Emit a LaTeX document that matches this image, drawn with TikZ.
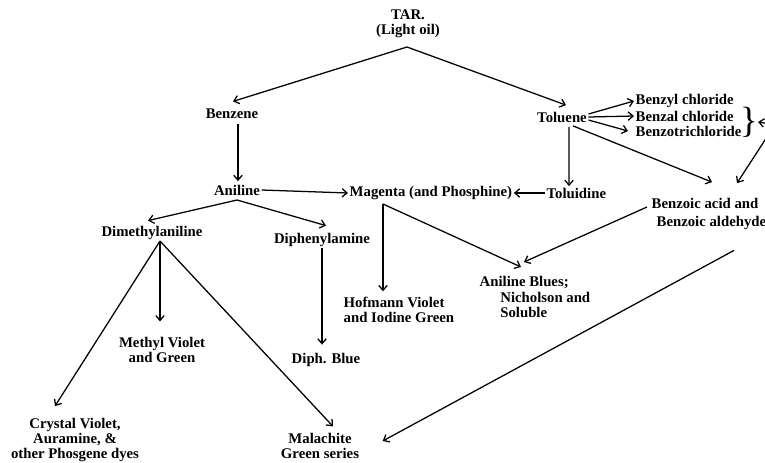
\documentclass[tikz,border=0pt]{standalone}
\usepackage{fontspec}
\setmainfont{Liberation Serif}
\usetikzlibrary{arrows.meta,positioning}

\begin{document}
\begin{tikzpicture}[
  x=0.025cm, y=-0.025cm,
  >={Straight Barb[length=3.5pt,width=6pt]},
  lbl/.style={inner sep=1pt, font=\fontsize{10.5}{11}\selectfont\bfseries},
  link/.style={->, line width=0.9pt},
]
\useasboundingbox (0,0) rectangle (765,462);

% Top
\node[lbl, align=center] (tar) at (408,24) {TAR.\\(Light oil)};
\node[lbl] (benzene) at (232,114) {Benzene};
\node[lbl] (toluene) at (562,117) {Toluene};

% Chlorides
\node[lbl, anchor=west] (benzyl) at (634,101) {Benzyl chloride};
\node[lbl, anchor=west] (benzal) at (634,116) {Benzal chloride};
\node[lbl, anchor=west] (benzotri) at (634,131) {Benzotrichloride};
\node[inner sep=0pt, font=\fontsize{26}{26}\selectfont] (brace) at (749,122) {\}};

% Middle row
\node[lbl] (aniline) at (237,190) {Aniline};
\node[lbl, anchor=west] (magenta) at (348,193) {Magenta (and Phosphine)};
\node[lbl, anchor=west] (toluidine) at (545,193) {Toluidine};
\node[lbl, anchor=west] (benzacid) at (650,203) {Benzoic acid and};
\node[lbl, anchor=west] (benzald) at (655,223) {Benzoic aldehyde};

% Aniline products
\node[lbl] (dimethyl) at (152,233) {Dimethylaniline};
\node[lbl] (diphenyl) at (322,240) {Diphenylamine};
\node[lbl, align=left, anchor=west] (hofmann) at (342,310) {Hofmann Violet\\and Iodine Green};
\node[lbl, align=left, anchor=north west] (blues) at (478,275) {Aniline Blues;\\\hspace{1.4em}Nicholson and\\\hspace{1.4em}Soluble};

% Dyes
\node[lbl, align=center] (methyl) at (162,350) {Methyl Violet\\and Green};
\node[lbl] (diphblue) at (326,360) {Diph. Blue};
\node[lbl, align=center] (crystal) at (75,440) {Crystal Violet,\\Auramine, \&\\other Phosgene dyes};
\node[lbl, align=center] (malachite) at (320,446) {Malachite\\Green series};

% Forks and free ends
\coordinate (tarfork) at (407,47);
\coordinate (anfork) at (237,200);
\coordinate (dmfork) at (160,241);
\coordinate (magfork) at (383,204);
\coordinate (offright) at (790,127);
\coordinate (offacid) at (778,120);

% Connectors
\draw[link] (tarfork) -- ([shift={(1,-6)}]benzene.north);
\draw[link] (tarfork) -- ([shift={(4,-5)}]toluene.north);
\draw[link] ([shift={(6,3)}]benzene.south) -- ([shift={(1,-2)}]aniline.north);
\draw[link] (aniline.east) -- (magenta.west);
\draw[link] (toluidine.west) -- (magenta.east);
\draw[link] ([shift={(0,-3)}]toluene.east) -- (benzyl.west);
\draw[link] (toluene.east) -- (benzal.west);
\draw[link] ([shift={(0,3)}]toluene.east) -- ([shift={(-6,0)}]benzotri.west);
\draw[link] (offright) -- (brace.east);
\draw[link] ([shift={(7,3)}]toluene.south) -- ([xshift=5pt]toluene.south |- toluidine.north);
\draw[link] ([shift={(11,2)}]toluene.south) -- ([shift={(62,-14)}]benzacid.north west);
\draw[link] (offacid) -- ([shift={(87,-13)}]benzacid.north west);
\draw[link] ([shift={(-3,4)}]benzacid.west) -- ([shift={(46,-13)}]blues.north west);
\draw[link] ([shift={(79,19)}]benzald.south west) -- ([shift={(22,-5)}]malachite.east);
\draw[link] (anfork) -- ([shift={(-4,-4)}]dimethyl.north);
\draw[link] (anfork) -- ([shift={(4,-6)}]diphenyl.north);
\draw[link] (dmfork) -- ([shift={(-20,-10)}]crystal.north);
\draw[link] (dmfork) -- ([shift={(-2,-14)}]methyl.north);
\draw[link] (dmfork) -- ([shift={(13,-5)}]malachite.north);
\draw[link] (diphenyl.south) -- ([shift={(-4,-7)}]diphblue.north);
\draw[link] (magfork) -- ([shift={(0,-4)}]magfork |- hofmann.north);
\draw[link] (magfork) -- ([shift={(43,-8)}]blues.north west);
\end{tikzpicture}
\end{document}
